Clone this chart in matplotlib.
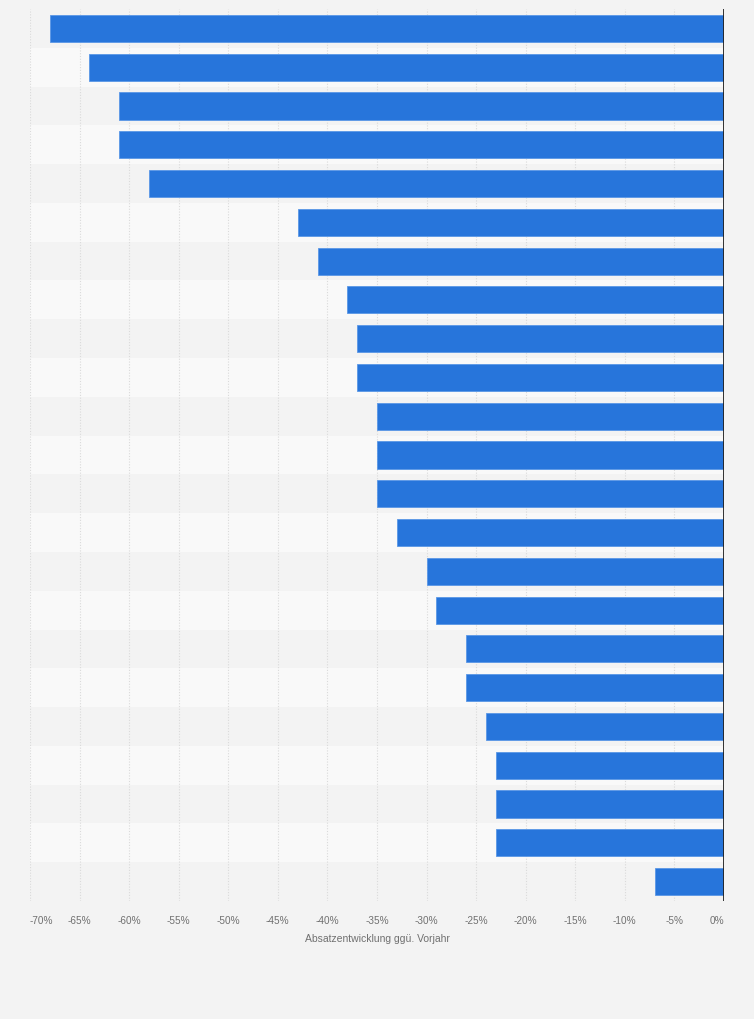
import matplotlib
matplotlib.use("Agg")
import matplotlib.pyplot as plt
from matplotlib.ticker import FuncFormatter

# Absatzentwicklung ggü. Vorjahr in %, von oben nach unten
categories = [f"Kategorie {i + 1}" for i in range(23)]
values = [-68, -64, -61, -61, -58, -43, -41, -38, -37, -37, -35, -35, -35,
          -33, -30, -29, -26, -26, -24, -23, -23, -23, -7]
ticks = list(range(-70, 1, 5))

bg = "#f3f3f3"
band = "#f9f9f9"
bar_color = "#2775db"

fig = plt.figure(figsize=(7.54, 10.2), dpi=100, facecolor=bg)
ax = fig.add_axes([30 / 754, 118 / 1020, 694 / 754, 892 / 1020])
ax.set_facecolor(bg)

n = len(values)
ypos = list(range(n))

# alternating row bands
for i in ypos:
    if i % 2 == 1:
        ax.axhspan(i - 0.5, i + 0.5, color=band, zorder=0, lw=0)

ax.barh(ypos, values, height=0.7, color=bar_color, edgecolor="#5a97e6",
        linewidth=0.6, zorder=3)

ax.set_xlim(-70, 0)
ax.set_ylim(n - 0.5, -0.5)
ax.set_xticks(ticks)
ax.xaxis.set_major_formatter(FuncFormatter(lambda v, p: f"{int(v)}%"))
ax.set_yticks([])
ax.grid(axis="x", color="#dadada", linestyle=(0, (1, 1.5)), linewidth=0.8, zorder=1)
ax.axvline(0, color="#222222", linewidth=1.3, zorder=4)

for s in ax.spines.values():
    s.set_visible(False)

ax.tick_params(axis="x", length=0, pad=10, labelsize=7.2, labelcolor="#707070")
labels = ax.get_xticklabels()
for lab in labels:
    lab.set_family("Liberation Sans")
labels[0].set_ha("left")
labels[-1].set_ha("right")
ax.set_xlabel("Absatzentwicklung ggü. Vorjahr", fontsize=7.5, color="#707070",
              family="Liberation Sans", labelpad=6)

fig.savefig("out.png", dpi=100, facecolor=bg)
